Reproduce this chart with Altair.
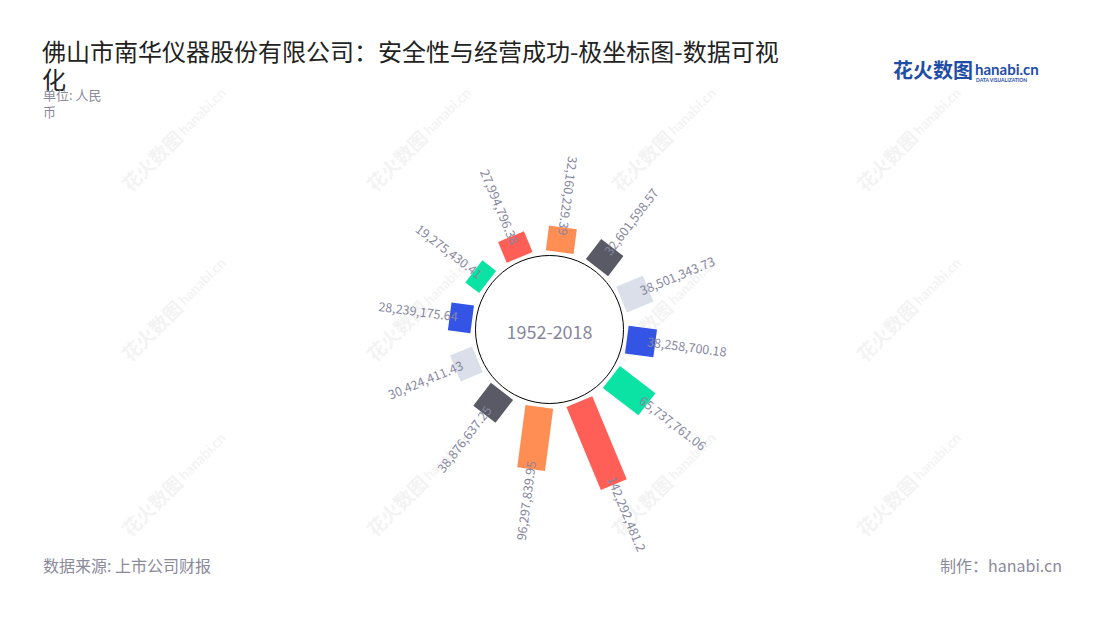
import altair as alt
import pandas as pd

# ---- data ----
periods = ["P01", "P02", "P03", "P04", "P05", "P06", "P07", "P08", "P09", "P10", "P11", "P12"]
values = [27994796.38, 32160229.39, 32601598.57, 38501343.73, 38258700.18,
          65737761.06, 142292481.2, 96297839.95, 38876637.25, 30424411.43,
          28239175.64, 19275430.41]
value_labels = ["27,994,796.38", "32,160,229.39", "32,601,598.57", "38,501,343.73",
                "38,258,700.18", "65,737,761.06", "142,292,481.2", "96,297,839.95",
                "38,876,637.25", "30,424,411.43", "28,239,175.64", "19,275,430.41"]
palette = ["#ff5f57", "#ff8e55", "#5a5a66", "#dadfe9", "#3454e6", "#0ae3a4"] * 2

df = pd.DataFrame({"period": periods, "value": values, "label": value_labels})

W, H = 1084, 604
CX, CY = 541.5, 321.5          # centre of the polar plot (chart pixels)
R_CIRCLE = 83.5
R_BAR_IN, R0, R1 = 78, 84, 168  # radial range for the value scale
BAR_W = 28
FONT = "Noto Sans CJK SC"
LABEL_COLOR = "#8787a0"

xs = alt.Scale(domain=[-CX, W - CX], nice=False, zero=False)
ys = alt.Scale(domain=[-(H - CY), CY], nice=False, zero=False)

polar = alt.Chart(df).transform_window(
    idx="row_number()"
).transform_joinaggregate(
    vmax="max(value)"
).transform_calculate(
    theta="(337.5 + 30 * (datum.idx - 1)) % 360",
).transform_calculate(
    rad="datum.theta * PI / 180",
    rout=f"{R0} + ({R1} - {R0}) * datum.value / datum.vmax",
).transform_calculate(
    x0=f"{R_BAR_IN} * sin(datum.rad)",
    y0=f"{R_BAR_IN} * cos(datum.rad)",
    x1="datum.rout * sin(datum.rad)",
    y1="datum.rout * cos(datum.rad)",
    lx="(datum.rout - 8) * sin(datum.rad)",
    ly="(datum.rout - 8) * cos(datum.rad)",
    outward="datum.theta > 15 && datum.theta < 180",
).transform_calculate(
    ang="datum.outward ? (datum.theta - 90 + 360) % 360 : (datum.theta + 90) % 360"
)

bars = polar.mark_rule(strokeWidth=BAR_W, strokeCap="butt").encode(
    x=alt.X("x0:Q", scale=xs, axis=None),
    y=alt.Y("y0:Q", scale=ys, axis=None),
    x2="x1:Q",
    y2="y1:Q",
    color=alt.Color("period:N", scale=alt.Scale(domain=periods, range=palette), legend=None),
)

centre_df = pd.DataFrame({"cx": [0], "cy": [0], "txt": ["1952-2018"]})
circle = alt.Chart(centre_df).mark_circle(
    size=3.14159 * R_CIRCLE ** 2, fill="white", stroke="black", strokeWidth=1, opacity=1
).encode(
    x=alt.X("cx:Q", scale=xs, axis=None),
    y=alt.Y("cy:Q", scale=ys, axis=None),
)
centre_text = alt.Chart(centre_df).mark_text(
    font=FONT, fontSize=18, color=LABEL_COLOR, baseline="middle", align="center", dy=4
).encode(
    x=alt.X("cx:Q", scale=xs, axis=None),
    y=alt.Y("cy:Q", scale=ys, axis=None),
    text="txt:N",
)

lab_out = polar.transform_filter("datum.outward").mark_text(
    font=FONT, fontSize=12.5, color=LABEL_COLOR, align="left", baseline="middle"
).encode(
    x=alt.X("lx:Q", scale=xs, axis=None),
    y=alt.Y("ly:Q", scale=ys, axis=None),
    angle=alt.Angle("ang:Q", scale=None),
    text="label:N",
)
lab_in = polar.transform_filter("!datum.outward").mark_text(
    font=FONT, fontSize=12.5, color=LABEL_COLOR, align="right", baseline="middle"
).encode(
    x=alt.X("lx:Q", scale=xs, axis=None),
    y=alt.Y("ly:Q", scale=ys, axis=None),
    angle=alt.Angle("ang:Q", scale=None),
    text="label:N",
)

one = pd.DataFrame({"a": [0]})


def note(text, x, y, size, color, align="left", weight="normal", angle=0, opacity=1.0,
         line_height=None, baseline="middle", font=FONT):
    kw = dict(font=font, fontSize=size, color=color, align=align, baseline=baseline,
              fontWeight=weight, angle=angle, opacity=opacity)
    if line_height is not None:
        kw["lineHeight"] = line_height
    return alt.Chart(one).mark_text(**kw).encode(
        x=alt.value(x - 8), y=alt.value(y - 8), text=alt.value(text)
    )


# faint background watermarks
marks = []
for wy in [140, 310, 485]:
    for wx in [175, 420, 665, 910]:
        marks.append(note("花火数图", wx - 22, wy + 22, 19, "#000000", align="center",
                          weight="bold", angle=315, opacity=0.045))
        marks.append(note("hanabi.cn", wx + 28, wy - 28, 14, "#000000", align="center",
                          weight="bold", angle=315, opacity=0.045, font="Lato"))

texts = [
    note(["佛山市南华仪器股份有限公司：安全性与经营成功-极坐标图-数据可视", "化"],
         42, 54, 24, "#222222", line_height=28),
    note(["单位: 人民", "币"], 43, 96, 13, "#8a8a9a", line_height=17),
    note("数据来源: 上市公司财报", 43, 567, 16, "#8a8a9a"),
    note("制作：hanabi.cn", 1062, 567, 16, "#8a8a9a", align="right"),
    note("花火数图", 893, 72, 20, "#1f4ea6", weight="bold"),
    note("hanabi.cn", 975, 70, 15, "#1f4ea6", weight="bold", font="Lato"),
    note("DATA VISUALIZATION", 976, 80, 5, "#1f4ea6", weight="bold", font="Lato"),
]

chart = alt.layer(
    *marks, bars, circle, lab_out, lab_in, centre_text, *texts
).properties(
    width=W, height=H, autosize=alt.AutoSizeParams(type="none"), padding=0,
    background="white",
).configure_view(stroke=None)

chart.save("out.html", embed_options={"renderer": "svg", "actions": False})
